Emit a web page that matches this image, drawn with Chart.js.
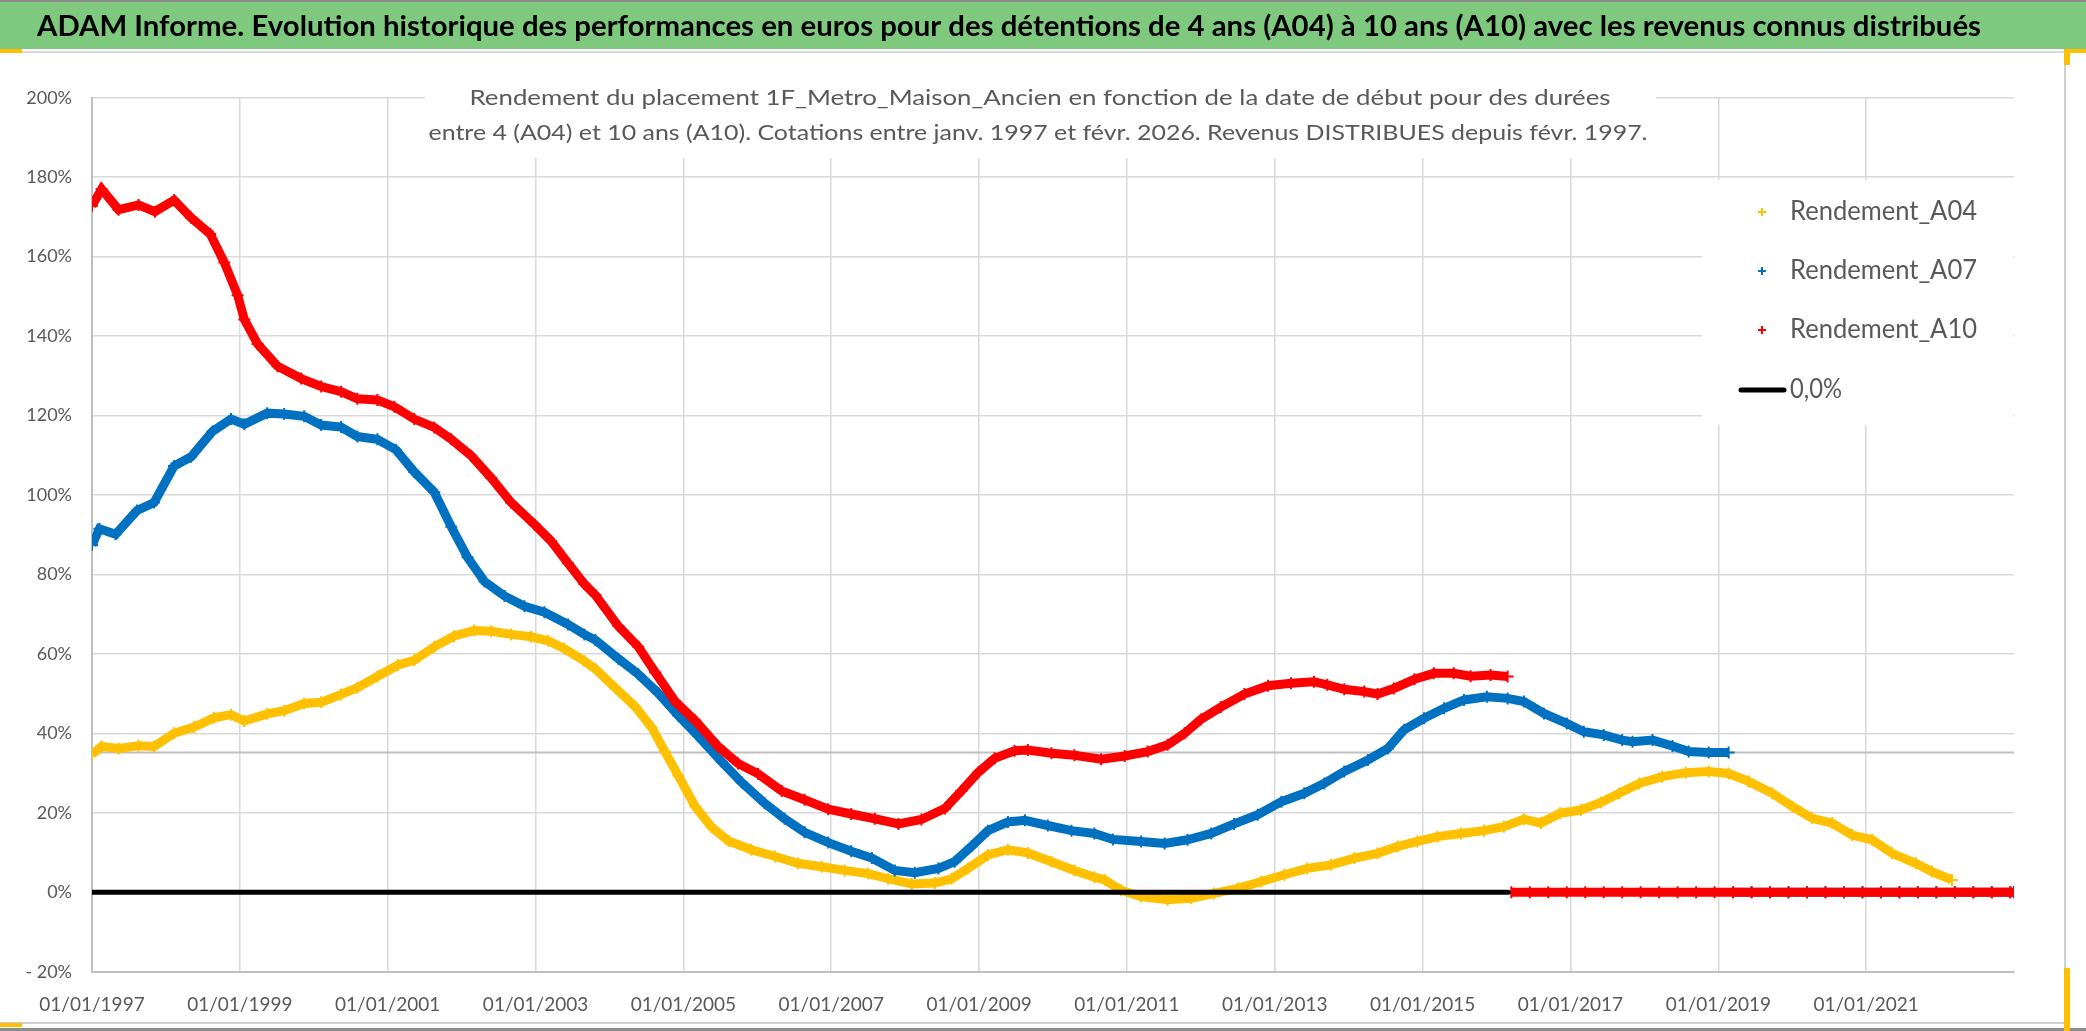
<!DOCTYPE html>
<html lang="fr">
<head>
<meta charset="utf-8">
<title>ADAM Informe - Rendement 1F_Metro_Maison_Ancien</title>
<script src="https://cdn.jsdelivr.net/npm/chart.js@4.4.1/dist/chart.umd.min.js"></script>
<style>
  html, body { margin: 0; padding: 0; background: #fff; overflow: hidden; }
  #wrap { position: relative; width: 2086px; height: 1031px; }
  canvas { display: block; }
</style>
</head>
<body>
<div id="wrap"><canvas id="chart" width="2086" height="1031"></canvas></div>
<script>
// Dates en années décimales, rendements en %.
// null = coupure entre la fin des données et la traîne à 0.
const datesA04 = [1997.0, 1997.13, 1997.36, 1997.63, 1997.84, 1998.11, 1998.38, 1998.65, 1998.88, 1999.06,
  1999.37, 1999.6, 1999.87, 2000.1, 2000.37, 2000.59, 2000.86, 2001.14, 2001.36, 2001.63,
  2001.9, 2002.17, 2002.4, 2002.67, 2002.94, 2003.17, 2003.39, 2003.66, 2003.81, 2004.08,
  2004.35, 2004.57, 2004.75, 2004.93, 2005.16, 2005.38, 2005.61, 2005.92, 2006.24, 2006.55,
  2006.87, 2007.18, 2007.5, 2007.77, 2008.09, 2008.4, 2008.63, 2008.85, 2009.12, 2009.39,
  2009.66, 2009.98, 2010.29, 2010.56, 2010.7, 2010.92, 2011.19, 2011.55, 2011.87, 2012.18,
  2012.5, 2012.82, 2013.13, 2013.44, 2013.76, 2014.08, 2014.39, 2014.66, 2014.93, 2015.2,
  2015.52, 2015.83, 2016.1, 2016.37, 2016.6, 2016.86, 2017.14, 2017.41, 2017.66, 2017.93,
  2018.24, 2018.56, 2018.87, 2019.14, 2019.41, 2019.73, 2020.0, 2020.27, 2020.54, 2020.81,
  2021.08, 2021.35, 2021.67, 2021.89, 2022.16, 2022.18, 2022.2, 2022.45, 2022.7, 2022.95, 2023.0];
const rendementA04 = [34.7, 36.7, 36.2, 36.9, 36.7, 40, 41.6, 43.9, 44.7, 43.1,
  44.9, 45.7, 47.5, 47.8, 49.8, 51.5, 54.3, 57.2, 58.4, 61.8,
  64.5, 65.9, 65.7, 64.9, 64.3, 63.3, 61.3, 58.2, 56.2, 51.4,
  46.7, 41.5, 35.4, 29.4, 21.6, 16.4, 12.9, 10.7, 9, 7.3,
  6.4, 5.5, 4.7, 3.4, 2.1, 2.3, 3.4, 6, 9.4, 10.7,
  9.9, 7.7, 5.5, 3.8, 3.1, 0.5, -1.1, -1.9, -1.5, -0.3,
  1, 2.7, 4.4, 6, 6.9, 8.6, 9.8, 11.5, 12.8, 14,
  14.8, 15.5, 16.5, 18.4, 17.4, 19.9, 20.7, 22.6, 24.9, 27.4,
  29.1, 30.1, 30.4, 29.9, 27.9, 24.9, 21.6, 18.6, 17.4, 14.4,
  13.2, 9.8, 7.3, 5.2, 3.1, null, 0, 0, 0, 0, 0];

const datesA07 = [1997.0, 1997.1, 1997.32, 1997.61, 1997.84, 1998.11, 1998.34, 1998.63, 1998.88, 1999.06,
  1999.37, 1999.6, 1999.87, 2000.1, 2000.37, 2000.59, 2000.86, 2001.11, 2001.36, 2001.63,
  2001.86, 2002.08, 2002.31, 2002.58, 2002.85, 2003.12, 2003.44, 2003.66, 2003.81, 2004.12,
  2004.39, 2004.66, 2004.93, 2005.2, 2005.52, 2005.79, 2006.1, 2006.37, 2006.64, 2006.96,
  2007.27, 2007.55, 2007.86, 2008.13, 2008.45, 2008.67, 2008.9, 2009.12, 2009.39, 2009.62,
  2009.93, 2010.25, 2010.56, 2010.81, 2011.19, 2011.51, 2011.82, 2012.14, 2012.45, 2012.77,
  2013.09, 2013.4, 2013.67, 2013.94, 2014.26, 2014.53, 2014.75, 2015.02, 2015.29, 2015.56,
  2015.87, 2016.15, 2016.37, 2016.64, 2016.95, 2017.18, 2017.45, 2017.7, 2017.84, 2018.11,
  2018.38, 2018.6, 2018.87, 2019.14, 2019.16, 2019.2, 2019.45, 2019.7, 2019.95, 2020.2,
  2020.45, 2020.7, 2020.95, 2021.2, 2021.45, 2021.7, 2021.95, 2022.2, 2022.45, 2022.7,
  2022.95, 2023.0];
const rendementA07 = [87.4, 91.5, 90.1, 96.1, 98.1, 107.3, 109.6, 116, 119.1, 117.8,
  120.6, 120.4, 119.8, 117.6, 117.1, 114.7, 114, 111.4, 105.8, 100.7,
  92, 84.3, 78.2, 74.6, 72, 70.5, 67.4, 64.9, 63.5, 58.8,
  54.9, 50.1, 44.5, 39.3, 32.8, 27.6, 22.4, 18.5, 15.1, 12.5,
  10.3, 8.6, 5.5, 4.9, 6, 7.7, 11.6, 15.5, 17.7, 18.1,
  16.8, 15.5, 14.8, 13.3, 12.8, 12.3, 13.2, 14.8, 17.2, 19.5,
  22.8, 24.9, 27.4, 30.4, 33.3, 36.2, 40.9, 43.8, 46.3, 48.4,
  49.2, 48.8, 48, 45, 42.5, 40.4, 39.6, 38.3, 37.9, 38.3,
  36.8, 35.4, 35.2, 35.2, null, 0, 0, 0, 0, 0,
  0, 0, 0, 0, 0, 0, 0, 0, 0, 0,
  0, 0];

const datesA10 = [1997.0, 1997.13, 1997.36, 1997.63, 1997.85, 1998.11, 1998.34, 1998.6, 1998.79, 1998.97,
  1999.06, 1999.24, 1999.51, 1999.83, 2000.1, 2000.37, 2000.59, 2000.86, 2001.09, 2001.36,
  2001.63, 2001.86, 2002.13, 2002.4, 2002.67, 2002.99, 2003.21, 2003.44, 2003.66, 2003.81,
  2004.12, 2004.39, 2004.62, 2004.89, 2005.16, 2005.47, 2005.74, 2006.01, 2006.33, 2006.64,
  2006.96, 2007.27, 2007.59, 2007.91, 2008.22, 2008.54, 2008.76, 2008.99, 2009.21, 2009.48,
  2009.66, 2009.98, 2010.29, 2010.65, 2010.97, 2011.28, 2011.55, 2011.78, 2012.0, 2012.27,
  2012.59, 2012.91, 2013.22, 2013.53, 2013.71, 2013.94, 2014.21, 2014.39, 2014.61, 2014.89,
  2015.15, 2015.42, 2015.65, 2015.92, 2016.15, 2016.17, 2016.2, 2016.45, 2016.7, 2016.95,
  2017.2, 2017.45, 2017.7, 2017.95, 2018.2, 2018.45, 2018.7, 2018.95, 2019.2, 2019.45,
  2019.7, 2019.95, 2020.2, 2020.45, 2020.7, 2020.95, 2021.2, 2021.45, 2021.7, 2021.95,
  2022.2, 2022.45, 2022.7, 2022.95, 2023.0];
const rendementA10 = [172.8, 177, 171.8, 173, 171.3, 174.2, 169.8, 165.7, 158.5, 150.3,
  144.2, 138, 132.4, 129.3, 127.3, 126, 124.2, 123.9, 122.2, 119.1,
  117, 114, 109.9, 104.3, 98.1, 92.5, 88.4, 82.8, 77.6, 74.8,
  67, 61.8, 55.3, 48, 43.2, 36.7, 32.4, 29.8, 25.5, 23.3,
  20.9, 19.7, 18.5, 17.2, 18.3, 21.1, 25.5, 30.2, 33.7, 35.6,
  35.8, 35, 34.5, 33.5, 34.3, 35.4, 37.1, 40, 43.5, 46.6,
  49.9, 52, 52.6, 53, 52.2, 51.1, 50.5, 49.9, 51.3, 53.6,
  55.1, 55.1, 54.4, 54.7, 54.3, null, 0, 0, 0, 0,
  0, 0, 0, 0, 0, 0, 0, 0, 0, 0,
  0, 0, 0, 0, 0, 0, 0, 0, 0, 0,
  0, 0, 0, 0, 0];

// ligne 0,0 % (tracée jusqu'à la dernière valeur A10) et trait gris horizontal
const datesZero = [1997.0, 2016.16];
const valeursZero = [0, 0];
const datesTrait = [1997.0, 2023.0];
const valeursTrait = [35.2, 35.2];

const xTicks = { min: 1997, max: 2023, step: 2, lastLabel: 2021 };
const yTicks = { min: -20, max: 200, step: 20 };

const seriesNames = ["Rendement_A04", "Rendement_A07", "Rendement_A10", "0,0%"];
const seriesColors = ["#FFC000", "#0070C0", "#FF0000", "#000000"];

const titre = "ADAM Informe. Evolution historique des performances en euros pour des détentions de 4 ans (A04) à 10 ans (A10) avec les revenus connus distribués";
const sousTitre = [
  "Rendement du placement 1F_Metro_Maison_Ancien en fonction de la date de début pour des durées",
  "entre 4 (A04) et 10 ans (A10). Cotations entre janv. 1997 et févr. 2026. Revenus DISTRIBUES depuis févr. 1997."
];

const toPoints = (xs, ys) => xs.map((x, i) => ({ x: x, y: ys[i] }));

const FONT = "Lato, 'Open Sans', sans-serif";
const GREY_TEXT = "#595959";

// texte étiré/compressé pour occuper une largeur donnée (police proche de Calibri)
function fitText(ctx, text, x, y, width, align) {
  const w = ctx.measureText(text).width;
  ctx.save();
  ctx.translate(x, y);
  ctx.scale(width / w, 1);
  ctx.textAlign = align;
  ctx.textBaseline = "middle";
  ctx.fillText(text, 0, 0);
  ctx.restore();
}

const decor = {
  id: "decor",
  beforeDraw(chart) {
    const ctx = chart.ctx;
    ctx.save();
    ctx.fillStyle = "#ffffff";
    ctx.fillRect(0, 0, chart.width, chart.height);
    // bandeau du titre
    ctx.fillStyle = "#7FC97F";
    ctx.fillRect(0, 0, chart.width, 49);
    ctx.fillStyle = "#8c8c8c";
    ctx.fillRect(0, 0, chart.width, 2);
    ctx.fillStyle = "#d9d9d9";
    ctx.fillRect(0, 51, chart.width, 2);
    ctx.fillStyle = "#000000";
    ctx.font = "bold 29px " + FONT;
    fitText(ctx, titre, 1009, 27, 1944, "center");
    // cadre du graphique
    ctx.fillStyle = "#d0d0d0";
    ctx.fillRect(2064, 53, 2, 970);
    ctx.fillRect(0, 1022, 2066, 2);
    ctx.fillStyle = "#8c8c8c";
    ctx.fillRect(0, 1028, chart.width, 3);
    ctx.fillStyle = "#FFC000";
    ctx.fillRect(0, 49, 22, 4);
    ctx.fillRect(2064, 49, 22, 4);
    ctx.fillRect(2064, 49, 6, 16);
    ctx.fillRect(0, 1023, 22, 4);
    ctx.fillRect(2064, 968, 6, 63);
    ctx.restore();
  },
  afterDraw(chart) {
    const ctx = chart.ctx;
    ctx.save();
    // zone du sous-titre
    ctx.fillStyle = "#ffffff";
    ctx.fillRect(425, 60, 1231, 98);
    ctx.fillStyle = GREY_TEXT;
    ctx.font = "22px " + FONT;
    fitText(ctx, sousTitre[0], 1040, 98, 1141, "center");
    fitText(ctx, sousTitre[1], 1038, 133, 1219, "center");
    // légende
    ctx.fillStyle = "#ffffff";
    ctx.fillRect(1702, 180, 311, 245);
    const rows = [212, 271, 330, 390];
    const widths = [187, 187, 187, 52];
    ctx.font = "26px " + FONT;
    rows.forEach((y, i) => {
      ctx.fillStyle = GREY_TEXT;
      fitText(ctx, seriesNames[i], 1790, y, widths[i], "left");
      ctx.strokeStyle = seriesColors[i];
      if (i < 3) {
        ctx.lineWidth = 2;
        ctx.beginPath();
        ctx.moveTo(1758, y);
        ctx.lineTo(1766, y);
        ctx.moveTo(1762, y - 4);
        ctx.lineTo(1762, y + 4);
        ctx.stroke();
      } else {
        ctx.lineWidth = 5;
        ctx.lineCap = "round";
        ctx.beginPath();
        ctx.moveTo(1741, y);
        ctx.lineTo(1784, y);
        ctx.stroke();
      }
    });
    ctx.restore();
  }
};

const serie = (label, xs, ys, color, order) => ({
  label: label,
  data: toPoints(xs, ys),
  borderColor: color,
  backgroundColor: color,
  borderWidth: 9,
  pointStyle: "cross",
  pointRadius: 6,
  pointBorderWidth: 2,
  pointBorderColor: color,
  pointHoverRadius: 0,
  spanGaps: false,
  order: order
});

new Chart(document.getElementById("chart"), {
  type: "line",
  data: {
    datasets: [
      serie(seriesNames[0], datesA04, rendementA04, seriesColors[0], 3),
      serie(seriesNames[1], datesA07, rendementA07, seriesColors[1], 2),
      serie(seriesNames[2], datesA10, rendementA10, seriesColors[2], 1),
      {
        label: seriesNames[3],
        data: toPoints(datesZero, valeursZero),
        borderColor: "#000000",
        borderWidth: 5,
        borderCapStyle: "round",
        pointRadius: 0,
        order: 0
      },
      {
        label: "trait",
        data: toPoints(datesTrait, valeursTrait),
        borderColor: "#c0c0c0",
        borderWidth: 2,
        pointRadius: 0,
        order: 4
      }
    ]
  },
  options: {
    responsive: false,
    devicePixelRatio: 1,
    animation: false,
    events: [],
    layout: { padding: { left: 0, right: 72, top: 97.7, bottom: 0 } },
    plugins: { legend: { display: false }, tooltip: { enabled: false } },
    scales: {
      x: {
        type: "linear",
        min: xTicks.min,
        max: xTicks.max,
        afterFit: (s) => { s.height = 59.3; },
        border: { color: "#bfbfbf", width: 2 },
        grid: {
          drawTicks: false,
          lineWidth: 1.5,
          color: (c) => (c.tick && c.tick.value >= xTicks.max ? "rgba(0,0,0,0)" : "#d9d9d9")
        },
        ticks: {
          stepSize: xTicks.step,
          autoSkip: false,
          maxRotation: 0,
          padding: 22,
          color: GREY_TEXT,
          font: { family: FONT, size: 19 },
          callback: (v) => (v <= xTicks.lastLabel ? "01/01/" + v : "")
        }
      },
      y: {
        min: yTicks.min,
        max: yTicks.max,
        afterFit: (s) => { s.width = 92; },
        border: { color: "#bfbfbf", width: 2 },
        grid: { drawTicks: false, lineWidth: 1.5, color: "#d9d9d9" },
        ticks: {
          stepSize: yTicks.step,
          padding: 20,
          color: GREY_TEXT,
          font: { family: FONT, size: 18 },
          callback: (v) => (v < 0 ? "- " + Math.abs(v) + "%" : v + "%")
        }
      }
    }
  },
  plugins: [decor]
});
</script>
</body>
</html>
